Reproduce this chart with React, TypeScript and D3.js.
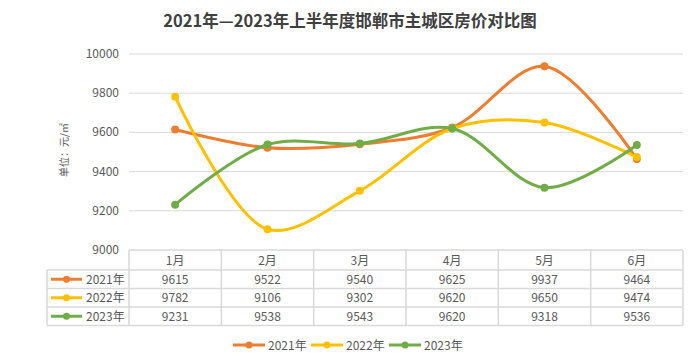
import * as d3 from "d3";

const months = ["1月", "2月", "3月", "4月", "5月", "6月"];
const years = ["2021年", "2022年", "2023年"];
const colors = ["#ED7D31", "#FFC000", "#70AD47"];
const v2021 = [9615, 9522, 9540, 9625, 9937, 9464];
const v2022 = [9782, 9106, 9302, 9620, 9650, 9474];
const v2023 = [9231, 9538, 9543, 9620, 9318, 9536];
const yTicks = [9000, 9200, 9400, 9600, 9800, 10000];

const series = [v2021, v2022, v2023];

const W = 700;
const H = 360;
const left = 129;
const right = 683;
const top = 54;
const bottom = 250;
const tableLeft = 47;
const rowH = 18.5;
const font = "'Noto Sans CJK SC', 'Noto Sans', sans-serif";
const grid = "#d9d9d9";
const txt = "#595959";

export default function App() {
  const x = d3.scaleBand<string>().domain(months).range([left, right]);
  const y = d3.scaleLinear().domain([9000, 10000]).range([bottom, top]);
  const line = d3
    .line<number>()
    .x((_, i) => (x(months[i]) ?? 0) + x.bandwidth() / 2)
    .y((d) => y(d))
    .curve(d3.curveCatmullRom.alpha(0.5));

  const headerBottom = bottom + 20;
  const legendItems = years.map((yr, i) => ({ yr, c: colors[i] }));
  const legendStart = 233;
  const legendStep = 78;

  return (
    <svg width={W} height={H} style={{ display: "block", margin: "-8px", fontFamily: font }}>
      <rect width={W} height={H} fill="#fff" />
      <text x={350} y={27} textAnchor="middle" fontSize={16.5} fontWeight="bold" fill="#404040">
        2021年—2023年上半年度邯郸市主城区房价对比图
      </text>
      {yTicks.map((t) => (
        <g key={t}>
          {t !== 9000 && <line x1={left} x2={right} y1={y(t)} y2={y(t)} stroke={grid} strokeWidth={1} />}
          <text x={119} y={y(t) + 4} textAnchor="end" fontSize={12} fill={txt}>
            {t}
          </text>
        </g>
      ))}
      <text
        transform={`translate(68,${150}) rotate(-90)`}
        textAnchor="middle"
        fontSize={10}
        fill={txt}
      >
        单位：元/㎡
      </text>

      {/* table */}
      <line x1={left} x2={right} y1={bottom} y2={bottom} stroke={grid} strokeWidth={1.5} />
      {d3.range(months.length + 1).map((i) => {
        const xx = i < months.length ? (x(months[i]) ?? 0) : right;
        return (
          <line key={i} x1={xx} x2={xx} y1={bottom} y2={headerBottom + rowH * 3} stroke={grid} strokeWidth={1.5} />
        );
      })}
      <line x1={tableLeft} x2={tableLeft} y1={headerBottom} y2={headerBottom + rowH * 3} stroke={grid} strokeWidth={1.5} />
      {d3.range(4).map((r) => (
        <line
          key={r}
          x1={tableLeft}
          x2={right}
          y1={headerBottom + rowH * r}
          y2={headerBottom + rowH * r}
          stroke={grid}
          strokeWidth={1.5}
        />
      ))}
      {months.map((m) => (
        <text key={m} x={(x(m) ?? 0) + x.bandwidth() / 2} y={bottom + 15} textAnchor="middle" fontSize={12} fill={txt}>
          {m}
        </text>
      ))}
      {series.map((s, si) => {
        const cy = headerBottom + rowH * si + rowH / 2;
        return (
          <g key={si}>
            <line x1={51} x2={82} y1={cy} y2={cy} stroke={colors[si]} strokeWidth={3} />
            <circle cx={66.5} cy={cy} r={3.5} fill={colors[si]} />
            <text x={86} y={cy + 4.5} fontSize={12} fill={txt}>
              {years[si]}
            </text>
            {s.map((v, i) => (
              <text
                key={i}
                x={(x(months[i]) ?? 0) + x.bandwidth() / 2}
                y={cy + 4.5}
                textAnchor="middle"
                fontSize={12}
                fill={txt}
              >
                {v}
              </text>
            ))}
          </g>
        );
      })}

      {/* lines */}
      {series.map((s, si) => (
        <g key={si}>
          <path d={line(s) ?? ""} fill="none" stroke={colors[si]} strokeWidth={3} />
          {s.map((v, i) => (
            <circle key={i} cx={(x(months[i]) ?? 0) + x.bandwidth() / 2} cy={y(v)} r={4} fill={colors[si]} />
          ))}
        </g>
      ))}

      {/* legend */}
      {legendItems.map((d, i) => {
        const lx = legendStart + i * legendStep;
        return (
          <g key={d.yr}>
            <line x1={lx} x2={lx + 32} y1={345} y2={345} stroke={d.c} strokeWidth={3} />
            <circle cx={lx + 16} cy={345} r={3.5} fill={d.c} />
            <text x={lx + 35} y={349.5} fontSize={12} fill={txt}>
              {d.yr}
            </text>
          </g>
        );
      })}
    </svg>
  );
}
